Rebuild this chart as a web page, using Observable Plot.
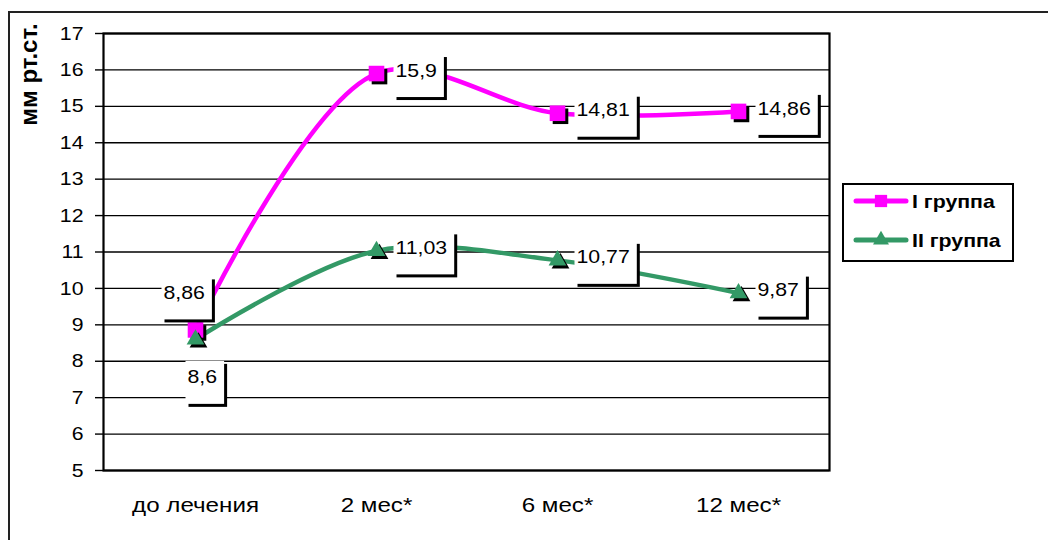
<!DOCTYPE html>
<html>
<head>
<meta charset="utf-8">
<script src="https://cdn.jsdelivr.net/npm/d3@7"></script>
<script src="https://cdn.jsdelivr.net/npm/@observablehq/plot@0.6"></script>
<style>
  html, body { margin: 0; padding: 0; background: #fff; }
  #wrap { position: relative; width: 1048px; height: 540px; overflow: hidden; font-family: "Liberation Sans", Arial, sans-serif; }
  #border { position: absolute; left: 8px; top: 11px; width: 1100px; height: 600px; border: 2px solid #222; box-sizing: border-box; }
  #chart { position: absolute; left: 0; top: 0; }
  #legend { position: absolute; left: 842px; top: 183px; }
  #dbg { position: absolute; left: 20px; top: 520px; font-size: 10px; color: red; }
</style>
</head>
<body>
<div id="wrap">
  <div id="border"></div>
  <div id="chart"></div>
  <svg id="legend" width="172" height="80"></svg>
  <div id="dbg"></div>
</div>
<script>
// ---- data ----
const categories = ["до лечения", "2 мес*", "6 мес*", "12 мес*"];
const seriesNames = ["I группа", "II группа"];
const group1 = [8.86, 15.9, 14.81, 14.86];
const group2 = [8.6, 11.03, 10.77, 9.87];
const yTicks = [5, 6, 7, 8, 9, 10, 11, 12, 13, 14, 15, 16, 17];
const yTitle = "мм рт.ст.";
const seriesColors = ["#ff00ff", "#339966"];

// ---- build table ----
const rows = [];
[group1, group2].forEach((vals, s) => {
  vals.forEach((v, i) => rows.push({series: seriesNames[s], cat: categories[i], value: v, idx: i}));
});
const fmt = v => String(v).replace(".", ",");
const s1 = rows.filter(d => d.series === seriesNames[0]);
const s2 = rows.filter(d => d.series === seriesNames[1]);
const FONT = "'Liberation Sans', Arial, sans-serif";
const LABEL_FS = 19;

const labelRest = rows.filter(d => d.idx > 0);
const labelFirst1 = s1.filter(d => d.idx === 0);
const labelFirst2 = s2.filter(d => d.idx === 0);
const tag = () => "value-label";

const chart = Plot.plot({
  width: 1048,
  height: 540,
  marginLeft: 103,
  marginRight: 219,
  marginTop: 33,
  marginBottom: 70,
  style: {fontFamily: FONT, background: "transparent", color: "#000", overflow: "visible"},
  x: {type: "point", domain: categories, padding: 0.5, axis: null},
  y: {domain: [5, 17], axis: null},
  color: {domain: seriesNames, range: seriesColors},
  marks: [
    Plot.gridY(yTicks, {stroke: "#000", strokeOpacity: 1, strokeWidth: 1.4}),
    Plot.frame({stroke: "#000", strokeWidth: 2.2}),
    Plot.axisY(yTicks, {tickSize: 8, tickPadding: 12, fontSize: 19, tickFormat: d => String(d), stroke: "#000", strokeWidth: 1.4, label: null}),
    Plot.axisX({tickSize: 0, tickPadding: 27, fontSize: 21, label: null}),
    Plot.text([yTitle], {frameAnchor: "top-left", text: d => d, rotate: -90, dx: -84, dy: 41, fontSize: 24, fontWeight: "bold", textAnchor: "middle"}),
    Plot.line(rows, {x: "cat", y: "value", z: "series", stroke: "series", strokeWidth: 4.5, curve: "catmull-rom", strokeLinejoin: "round"}),
    Plot.dot(s1, {x: "cat", y: "value", symbol: "square", r: 8.8, fill: "#000", dx: 3, dy: 3}),
    Plot.dot(s1, {x: "cat", y: "value", symbol: "square", r: 8.8, fill: seriesColors[0]}),
    Plot.dot(s2, {x: "cat", y: "value", symbol: "triangle", r: 6.6, fill: "#000", dx: 3, dy: 3}),
    Plot.dot(s2, {x: "cat", y: "value", symbol: "triangle", r: 6.6, fill: seriesColors[1]}),
    Plot.text(labelRest, {x: "cat", y: "value", text: d => fmt(d.value), textAnchor: "start", dx: 19, dy: -3, fontSize: LABEL_FS, ariaLabel: tag}),
    Plot.text(labelFirst1, {x: "cat", y: "value", text: d => fmt(d.value), textAnchor: "start", dx: -32, dy: -37, fontSize: LABEL_FS, ariaLabel: tag}),
    Plot.text(labelFirst2, {x: "cat", y: "value", text: d => fmt(d.value), textAnchor: "start", dx: -8, dy: 38, fontSize: LABEL_FS, ariaLabel: tag})
  ]
});
document.getElementById("chart").appendChild(chart);

function stretch(list, k) {
  list.forEach(t => {
    const L = t.getComputedTextLength();
    if (L > 0) { t.setAttribute("textLength", (L * k).toFixed(1)); t.setAttribute("lengthAdjust", "spacingAndGlyphs"); }
  });
}
const valueTexts = chart.querySelectorAll('text[aria-label="value-label"]');
stretch(chart.querySelectorAll('g[aria-label="y-axis tick label"] text'), 1.12);
stretch(chart.querySelectorAll('g[aria-label="x-axis tick label"] text'), 1.15);
stretch(valueTexts, 1.12);

// label boxes with Excel-like shadow, in the text's own coordinate space
const NS = "http://www.w3.org/2000/svg";
try {
  valueTexts.forEach(t => {
    const bb = t.getBBox();
    const baseline = bb.y + 0.905 * LABEL_FS;
    const yc = baseline - 0.358 * LABEL_FS;
    const x0 = bb.x - 2, x1 = bb.x + bb.width + 7;
    const y0 = yc - 16, y1 = yc + 27;
    const tr = t.getAttribute("transform");
    const parent = t.parentNode;
    const mk = (off, fill) => {
      const r = document.createElementNS(NS, "rect");
      r.setAttribute("x", x0 + off); r.setAttribute("y", y0 + off);
      r.setAttribute("width", x1 - x0); r.setAttribute("height", y1 - y0);
      r.setAttribute("style", "fill:" + fill + ";stroke:none");
      if (tr) r.setAttribute("transform", tr);
      parent.insertBefore(r, t);
    };
    mk(3, "#000");
    mk(0, "#fff");
  });
  if (!valueTexts.length) document.getElementById("dbg").textContent = "no labels found";
} catch (e) {
  document.getElementById("dbg").textContent = String(e);
}

// legend
const lg = d3.select("#legend");
lg.append("rect").attr("x", 1).attr("y", 1).attr("width", 170).attr("height", 77).attr("fill", "#fff").attr("stroke", "#000").attr("stroke-width", 2);
seriesNames.forEach((name, i) => {
  const y = i === 0 ? 18 : 57;
  lg.append("line").attr("x1", 14).attr("x2", 64).attr("y1", y).attr("y2", y)
    .attr("stroke", seriesColors[i]).attr("stroke-width", 5).attr("stroke-linecap", "round");
  const sym = i === 0 ? d3.symbolSquare : d3.symbolTriangle;
  lg.append("path").attr("d", d3.symbol(sym, i === 0 ? 150 : 110)()).attr("transform", `translate(39,${y})`).attr("fill", seriesColors[i]);
  lg.append("text").attr("x", 70).attr("y", y).attr("dy", "0.35em").attr("font-family", FONT)
    .attr("font-size", 19).attr("font-weight", "bold").text(name);
});
stretch(document.querySelectorAll("#legend text"), 1.12);
</script>
</body>
</html>
